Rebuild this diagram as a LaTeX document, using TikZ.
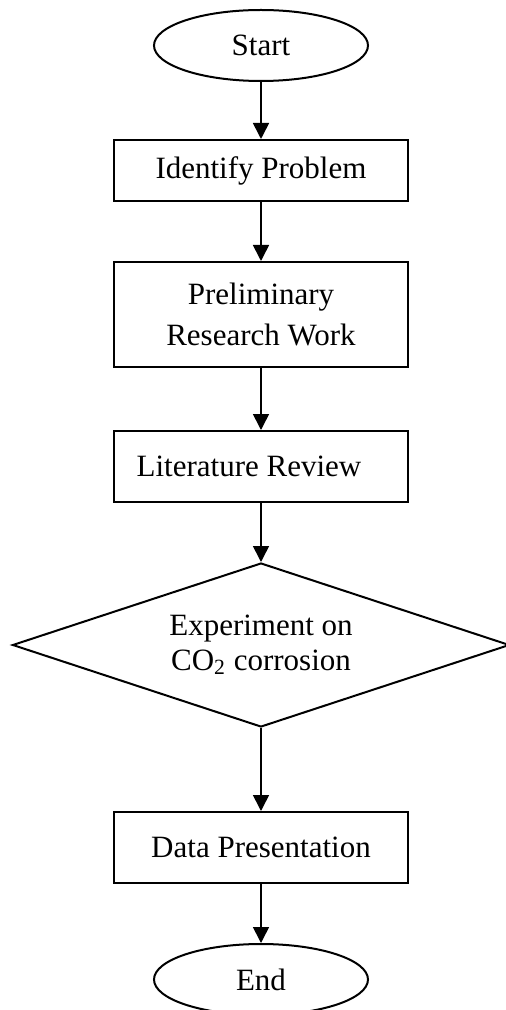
\documentclass[tikz,border=0pt]{standalone}
\usepackage{fontspec}
\setmainfont{Liberation Serif}
\usepackage{tikz}
\usetikzlibrary{positioning}
\usetikzlibrary{arrows.meta}
\usetikzlibrary{shapes}

\begin{document}
\begin{tikzpicture}[node distance=2cm,on grid,auto,line width=1pt,
   font=\fontsize{15.5}{20.5}\selectfont,
   term/.style={ellipse,draw,minimum width=107pt,minimum height=35.5pt,inner sep=0pt},
   proc/.style={rectangle,draw,minimum width=147pt,minimum height=35.5pt,align=center,inner sep=0pt},
   cond/.style={diamond,draw,shape aspect=3,minimum width=248.5pt,minimum height=82pt,inner sep=0pt,align=center,
                font=\fontsize{15.5}{17.5}\selectfont}]
   \useasboundingbox (-130.5pt,22.75pt) rectangle (122pt,-482.25pt);
   \node[term] (start) {Start};
   \node[proc,minimum height=30.5pt] (ident) [below=62.5pt of start] {Identify Problem};
   \node[proc,minimum height=52.5pt] (prelim) [below=72pt of ident] {Preliminary\\Research Work};
   \node[proc] (lit) [below=76pt of prelim] {Literature Review\hspace*{12pt}};
   \node[cond] (exp) [below=89.25pt of lit] {Experiment on\\CO\textsubscript{2} corrosion};
   \node[proc] (data) [below=101.25pt of exp] {Data Presentation};
   \node[term] (end) [below=66pt of data] {End};
    \path[-{Triangle[width=8pt,length=8pt]},line width=0.8pt]
    (start) edge (ident)
    (ident) edge (prelim)
    (prelim) edge (lit)
    (lit) edge (exp)
    (exp) edge (data)
    (data) edge (end);
\end{tikzpicture}
\end{document}
